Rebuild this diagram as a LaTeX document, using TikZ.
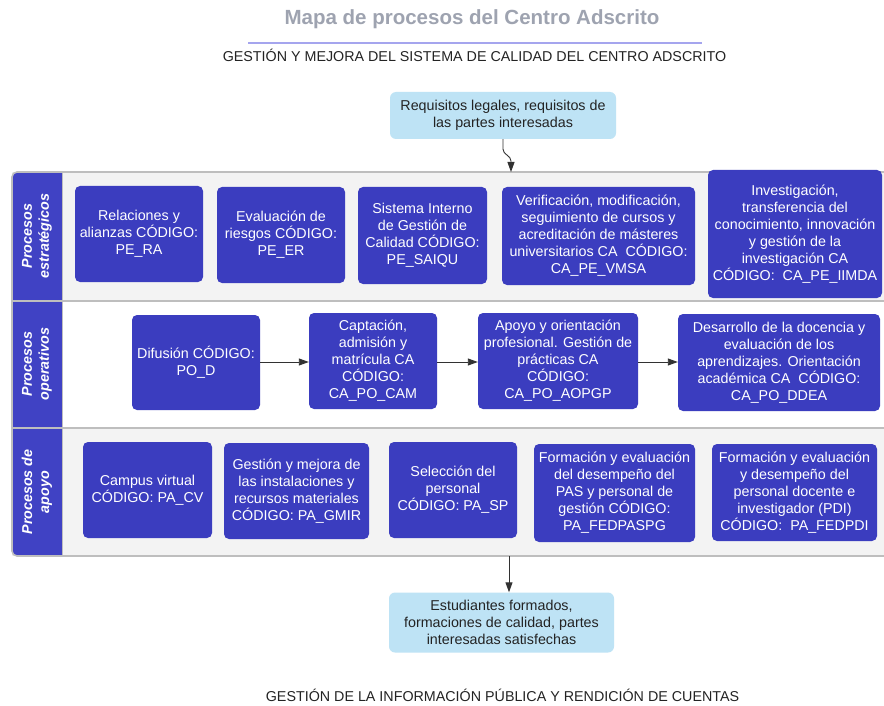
\documentclass[tikz,border=0pt]{standalone}
\usepackage{fontspec}
\setmainfont{Liberation Sans}
\usetikzlibrary{arrows.meta}
\definecolor{boxblue}{RGB}{59,61,191}
\definecolor{hdrblue}{RGB}{64,66,196}
\definecolor{lightblue}{RGB}{190,227,245}
\definecolor{lanegray}{RGB}{243,243,243}
\definecolor{linegray}{RGB}{190,190,190}
\definecolor{titlegray}{RGB}{158,163,176}
\definecolor{lavender}{RGB}{165,165,238}
\definecolor{txtdark}{RGB}{35,35,35}
\definecolor{arrowgray}{RGB}{50,50,50}
\begin{document}
\begin{tikzpicture}[x=1pt,y=-1pt,
 pbox/.style={fill=boxblue, rounded corners=5pt, text=white, align=center, font=\fontsize{14.3}{17}\selectfont, inner sep=0pt},
 ibox/.style={fill=lightblue, rounded corners=6pt, text=txtdark, align=center, font=\fontsize{14.3}{17}\selectfont, inner sep=0pt},
 hdr/.style={rotate=90, text=white, align=center, font=\fontsize{14.3}{17}\selectfont\bfseries\itshape, inner sep=0pt},
 flow/.style={draw=arrowgray, line width=0.9pt, -{Triangle[length=10pt,width=7pt]}},
 lanesep/.style={draw=linegray, line width=2pt},
 plain/.style={text=txtdark, font=\fontsize{14.3}{17}\selectfont, inner sep=0pt}
]
\useasboundingbox (0,0) rectangle (884,706);
\clip (0,0) rectangle (884,706);
\fill[white] (0,0) rectangle (884,706);

% titles
\node[font=\fontsize{20.5}{24}\selectfont\bfseries, text=titlegray, inner sep=0pt] (title) at (472,19) {Mapa de procesos del Centro Adscrito};
\draw[lavender, line width=1.5pt] (248,43) -- (702,43);
\node[plain] (sub) at (474.5,55) {GESTIÓN Y MEJORA DEL SISTEMA DE CALIDAD DEL CENTRO ADSCRITO};
\node[plain] (bottom) at (502.5,695) {GESTIÓN DE LA INFORMACIÓN PÚBLICA Y RENDICIÓN DE CUENTAS};

% lanes
\fill[lanegray] (12,172) rectangle (900,301);
\fill[white] (12,301) rectangle (900,428);
\fill[lanegray] (12,428) rectangle (900,556);
\fill[hdrblue, rounded corners=5pt] (12,172) rectangle (62,556);
\fill[hdrblue] (40,172) rectangle (62,556);
\draw[linegray, line width=1pt] (62,172) -- (62,556);
\draw[lanesep] (12,301) -- (900,301);
\draw[lanesep] (12,428) -- (900,428);
\draw[linegray, line width=1.6pt, rounded corners=5pt] (12,172) rectangle (900,556);

\node[hdr] (h1) at (37,236) {Procesos\\estratégicos};
\node[hdr] (h2) at (37,364) {Procesos\\operativos};
\node[hdr] (h3) at (37,492) {Procesos de\\apoyo};

% input / output
\node[ibox, minimum width=226pt, minimum height=47pt] (A) at (503,115.5) {Requisitos legales, requisitos de\\las partes interesadas};
\node[ibox, minimum width=225pt, minimum height=60pt] (B) at (501.5,622.5) {Estudiantes formados,\\formaciones de calidad, partes\\interesadas satisfechas};

% strategic
\node[pbox, minimum width=128pt, minimum height=96pt] (s1) at (139,234) {Relaciones y\\alianzas CÓDIGO:\\PE\_RA};
\node[pbox, minimum width=128pt, minimum height=96pt] (s2) at (281,235) {Evaluación de\\riesgos CÓDIGO:\\PE\_ER};
\node[pbox, minimum width=129pt, minimum height=97pt] (s3) at (422.5,235.5) {Sistema Interno\\de Gestión de\\Calidad CÓDIGO:\\PE\_SAIQU};
\node[pbox, minimum width=193pt, minimum height=98pt] (s4) at (598.5,236) {Verificación, modificación,\\seguimiento de cursos y\\acreditación de másteres\\universitarios CA\ \ CÓDIGO:\\CA\_PE\_VMSA};
\node[pbox, minimum width=174pt, minimum height=128pt] (s5) at (795,234) {Investigación,\\transferencia del\\conocimiento, innovación\\y gestión de la\\investigación CA\\CÓDIGO:\ \ CA\_PE\_IIMDA};

% operative
\node[pbox, minimum width=128pt, minimum height=95pt] (o1) at (196,362.5) {Difusión CÓDIGO:\\PO\_D};
\node[pbox, minimum width=128pt, minimum height=96pt] (o2) at (373,361) {Captación,\\admisión y\\matrícula CA\\CÓDIGO:\\CA\_PO\_CAM};
\node[pbox, minimum width=160pt, minimum height=96pt] (o3) at (558,361) {Apoyo y orientación\\profesional. Gestión de\\prácticas CA\\CÓDIGO:\\CA\_PO\_AOPGP};
\node[pbox, minimum width=202pt, minimum height=97pt] (o4) at (779,362.5) {Desarrollo de la docencia y\\evaluación de los\\aprendizajes. Orientación\\académica CA\ \ CÓDIGO:\\CA\_PO\_DDEA};

% support
\node[pbox, minimum width=129pt, minimum height=96pt] (a1) at (147.5,490) {Campus virtual\\CÓDIGO: PA\_CV};
\node[pbox, minimum width=145pt, minimum height=96pt] (a2) at (296.5,491) {Gestión y mejora de\\las instalaciones y\\recursos materiales\\CÓDIGO: PA\_GMIR};
\node[pbox, minimum width=128pt, minimum height=96pt] (a3) at (453,490) {Selección del\\personal\\CÓDIGO: PA\_SP};
\node[pbox, minimum width=161pt, minimum height=98pt] (a4) at (614.5,493) {Formación y evaluación\\del desempeño del\\PAS y personal de\\gestión CÓDIGO:\\PA\_FEDPASPG};
\node[pbox, minimum width=165pt, minimum height=97pt] (a5) at (794.5,492.5) {Formación y evaluación\\y desempeño del\\personal docente e\\investigador (PDI)\\CÓDIGO:\ \ PA\_FEDPDI};

% connectors
\coordinate (tA) at (511,172);
\coordinate (tAbend) at (511,161);
\draw[flow] (A.south) -- ++(0,10) to[out=-90,in=90] (tAbend) -- (tA);
\coordinate (bA) at (509,556);
\draw[flow] (bA) -- (bA |- B.north);
\draw[flow] (o1.east |- 0,362) -- (o2.west |- 0,362);
\draw[flow] (o2.east |- 0,362) -- (o3.west |- 0,362);
\draw[flow] (o3.east |- 0,362) -- (o4.west |- 0,362);
\end{tikzpicture}
\end{document}
